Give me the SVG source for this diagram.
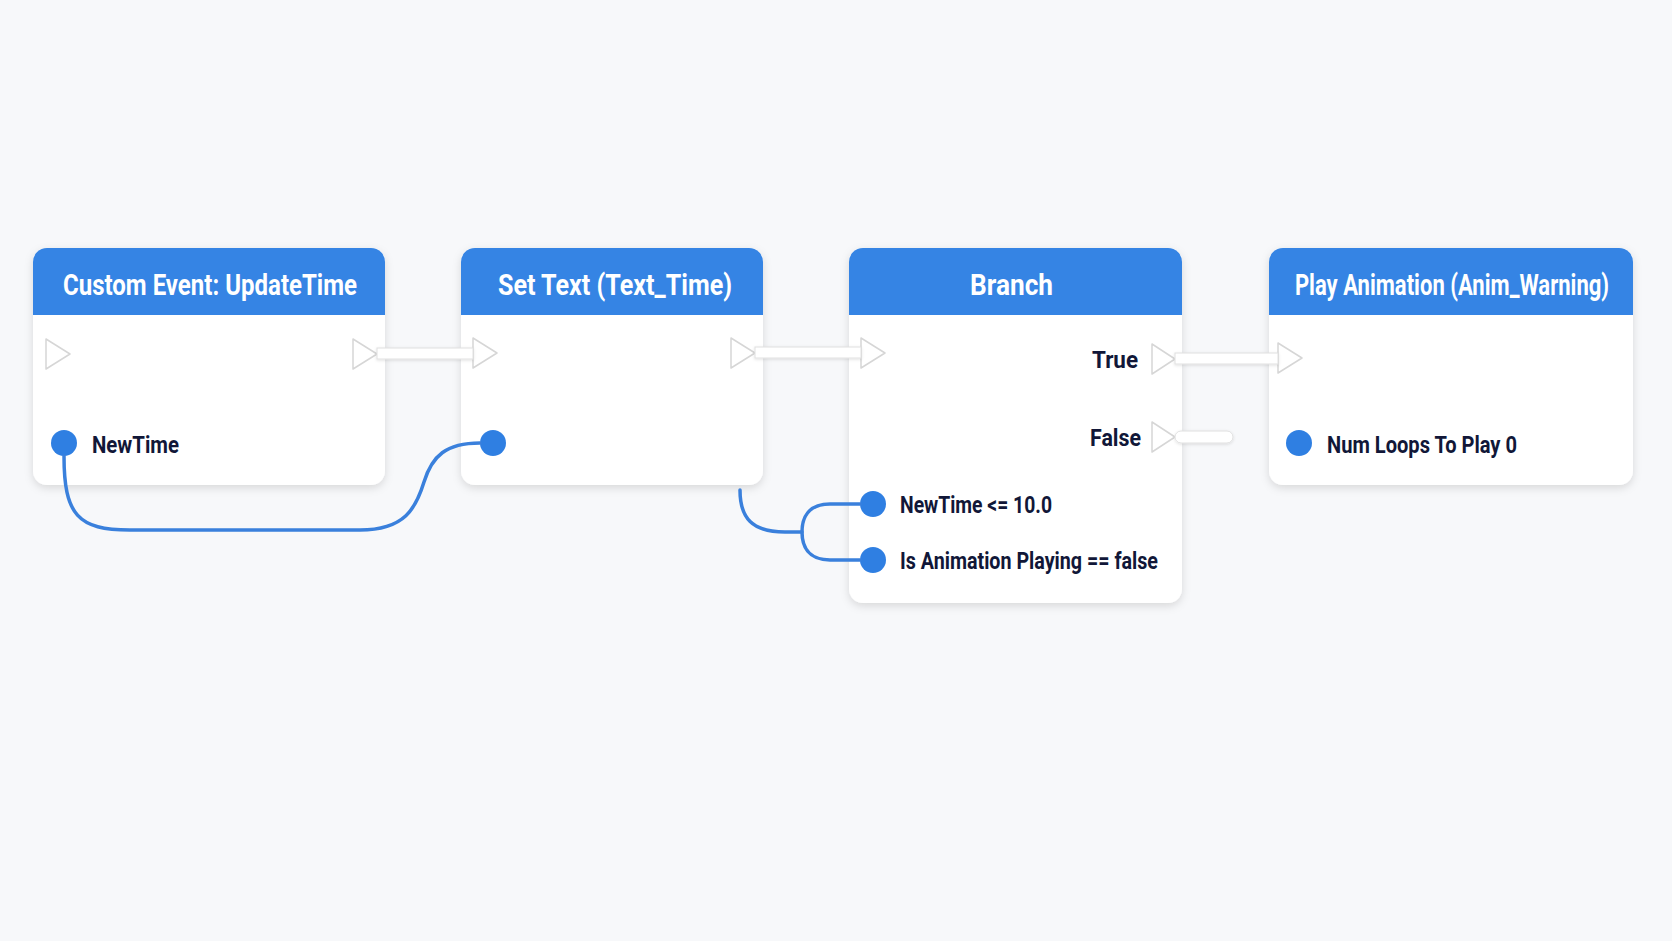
<svg xmlns="http://www.w3.org/2000/svg" width="1672" height="941" viewBox="0 0 1672 941">
<defs>
<filter id="sh" x="-10%" y="-10%" width="120%" height="130%">
<feDropShadow dx="0" dy="3" stdDeviation="4" flood-color="#000" flood-opacity="0.13"/>
</filter>
<filter id="sh2" x="-10%" y="-50%" width="120%" height="200%">
<feDropShadow dx="0" dy="1" stdDeviation="1.5" flood-color="#000" flood-opacity="0.12"/>
</filter>
<style>
.body{fill:#ffffff;filter:url(#sh)}
.head{fill:#3584e4}
.title{font-family:Roboto,"Liberation Sans",sans-serif;font-weight:bold;font-size:29px;fill:#ffffff}
.lbl{font-family:Roboto,"Liberation Sans",sans-serif;font-weight:bold;font-size:23px;fill:#111738}
.exec{fill:#ffffff;stroke:#d6d6d6;stroke-width:1.5;stroke-linejoin:round}
.pin{fill:#2f7fe2}
.bar{fill:#ffffff;stroke:#e0e0e0;stroke-width:1;filter:url(#sh2)}
.wire{fill:none;stroke:#3a80dc;stroke-width:3.5;stroke-linecap:round}
</style>
</defs>
<rect width="1672" height="941" fill="#f7f8fa"/>

<g id="node-custom-event">
<rect class="body" x="33" y="248" width="352" height="237" rx="14"/>
<path class="head" d="M33 315 V262 A14 14 0 0 1 47 248 H371 A14 14 0 0 1 385 262 V315 Z"/>
<text class="title" x="63" y="295" textLength="294" lengthAdjust="spacingAndGlyphs">Custom Event: UpdateTime</text>
<polygon class="exec" points="46,339 70,354 46,369"/>
<polygon class="exec" points="353,339 377,354 353,369"/>
<circle class="pin" cx="64" cy="443" r="13"/>
<text class="lbl" x="92" y="453" textLength="87" lengthAdjust="spacingAndGlyphs">NewTime</text>
</g>

<g id="node-set-text">
<rect class="body" x="461" y="248" width="302" height="237" rx="14"/>
<path class="head" d="M461 315 V262 A14 14 0 0 1 475 248 H749 A14 14 0 0 1 763 262 V315 Z"/>
<text class="title" x="498" y="295" textLength="234" lengthAdjust="spacingAndGlyphs">Set Text (Text_Time)</text>
<polygon class="exec" points="473,338 497,353 473,368"/>
<polygon class="exec" points="731,338 755,353 731,368"/>
<circle class="pin" cx="493" cy="443" r="13"/>
</g>

<g id="node-branch">
<rect class="body" x="849" y="248" width="333" height="355" rx="14"/>
<path class="head" d="M849 315 V262 A14 14 0 0 1 863 248 H1168 A14 14 0 0 1 1182 262 V315 Z"/>
<text class="title" x="970" y="295" textLength="83" lengthAdjust="spacingAndGlyphs">Branch</text>
<polygon class="exec" points="861,338 885,353 861,368"/>
<text class="lbl" x="1138" y="368" text-anchor="end" textLength="46" lengthAdjust="spacingAndGlyphs">True</text>
<polygon class="exec" points="1152,344 1175,359 1152,374"/>
<text class="lbl" x="1141" y="446" text-anchor="end" textLength="51" lengthAdjust="spacingAndGlyphs">False</text>
<polygon class="exec" points="1152,422 1175,437 1152,452"/>
<circle class="pin" cx="873" cy="504" r="13"/>
<text class="lbl" x="900" y="513" textLength="152" lengthAdjust="spacingAndGlyphs">NewTime &lt;= 10.0</text>
<circle class="pin" cx="873" cy="560" r="13"/>
<text class="lbl" x="900" y="569" textLength="258" lengthAdjust="spacingAndGlyphs">Is Animation Playing == false</text>
</g>

<g id="node-play-animation">
<rect class="body" x="1269" y="248" width="364" height="237" rx="14"/>
<path class="head" d="M1269 315 V262 A14 14 0 0 1 1283 248 H1619 A14 14 0 0 1 1633 262 V315 Z"/>
<text class="title" transform="translate(1452,295) scale(0.76,1)" x="0" y="0" text-anchor="middle">Play Animation (Anim_Warning)</text>
<polygon class="exec" points="1278,343 1302,358 1278,373"/>
<circle class="pin" cx="1299" cy="443" r="13"/>
<text class="lbl" x="1327" y="453" textLength="190" lengthAdjust="spacingAndGlyphs">Num Loops To Play 0</text>
</g>

<g id="connectors">
<rect class="bar" x="377" y="348" width="96" height="11"/>
<rect class="bar" x="755" y="347" width="106" height="11"/>
<rect class="bar" x="1175" y="353" width="103" height="11"/>
<rect class="bar" x="1175" y="431" width="58" height="12" rx="6"/>
<path class="wire" d="M64 456 C64 515 78 530 130 530 L360 530 C405 530 416 508 424 482 C432 456 446 443 480 443"/>
<path class="wire" d="M740 490 C740 518 752 532 785 532 L802 532"/>
<path class="wire" d="M860 504 L830 504 C808 504 802 518 802 532 C802 546 808 560 830 560 L860 560"/>
</g>
</svg>
